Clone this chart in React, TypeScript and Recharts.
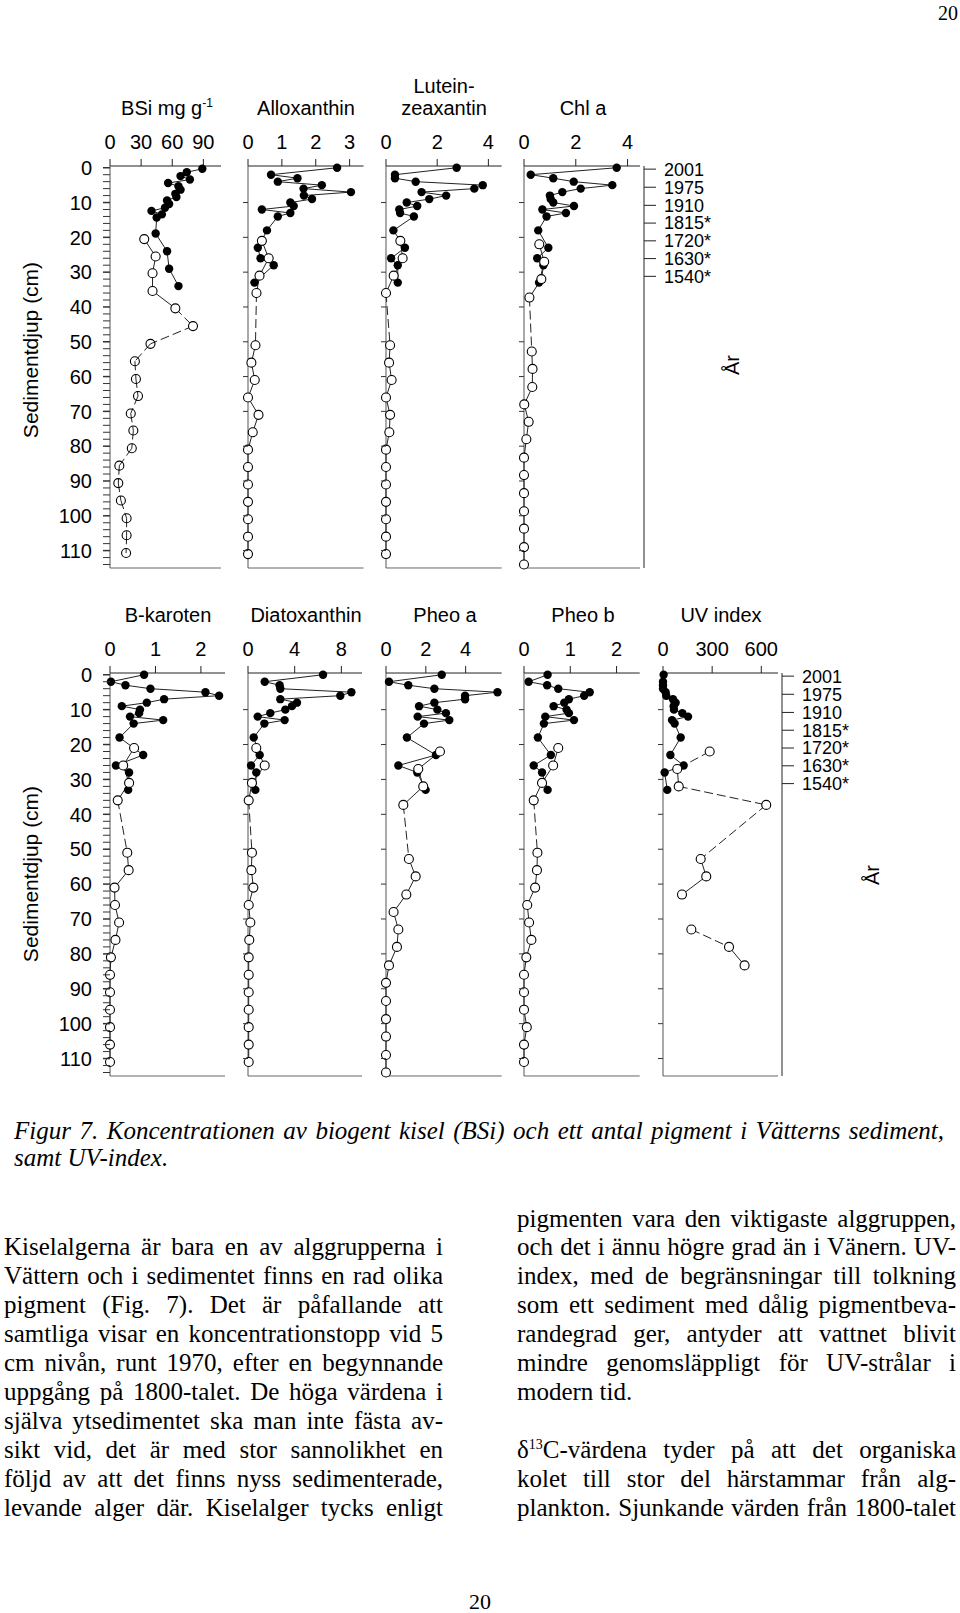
import React from 'react';
import { ScatterChart, Scatter, XAxis, YAxis, ReferenceLine } from 'recharts';

const SANS = '"Liberation Sans", Arial, Helvetica, sans-serif';
const SERIF = '"Liberation Serif", "Times New Roman", Times, serif';

// ---------------- data ----------------
const yearLabels = ['2001', '1975', '1910', '1815*', '1720*', '1630*', '1540*'];
const yearDepths = [0.4, 5.6, 10.8, 15.9, 21.0, 26.1, 31.2];

const pigFilledDepth = [0, 2, 3, 4, 5, 6, 7, 8, 9, 10, 11, 12, 13, 14, 18, 23, 26, 28, 33];
const openDepthA = [21, 26, 31, 36, 51, 56, 61, 66, 71, 76, 81, 86, 91, 96, 101, 106, 111];
const openDepthB = [22, 27, 32, 37.3, 52.8, 57.8, 63, 68, 73, 78, 83.3, 88.3, 93.5, 98.7, 103.7, 109, 114];

const bsiFilledDepth = [0.3, 1.3, 2.4, 3.4, 4.4, 5.3, 6.3, 7.5, 8.4, 9.4, 10.4, 11.5, 12.4, 13.4, 14.3, 18.9, 24, 29, 34];
const bsiFilledValue = [89, 74, 68, 77, 56, 66, 68, 63, 64, 55, 57, 53, 40, 50, 45, 44, 55, 57, 66];
const bsiOpenDepth = [20.5, 25.5, 30.3, 35.4, 40.4, 45.5, 50.6, 55.6, 60.7, 65.6, 70.6, 75.5, 80.6, 85.6, 90.6, 95.6, 100.7, 105.6, 110.7];
const bsiOpenValue = [33, 44, 41, 41, 63, 80, 39, 24, 25, 27, 20, 22.5, 21, 9, 8, 10.5, 16, 16, 15.5];

const alloxFilledValue = [2.63, 0.68, 1.46, 0.88, 2.18, 1.64, 3.04, 1.65, 1.89, 1.25, 1.35, 0.41, 1.25, 0.88, 0.56, 0.29, 0.37, 0.76, 0.19];
const alloxOpenValue = [0.41, 0.61, 0.34, 0.25, 0.22, 0.1, 0.2, 0, 0.31, 0.14, 0, 0, 0, 0, 0, 0, 0];

const luteinFilledValue = [2.76, 0.35, 0.35, 1.16, 3.78, 3.45, 1.39, 2.35, 1.69, 0.81, 1.22, 0.52, 0.55, 1.09, 0.29, 0.74, 0.2, 0.46, 0.46];
const luteinOpenValue = [0.56, 0.65, 0.3, 0, 0.16, 0.12, 0.22, 0, 0.16, 0.13, 0, 0, 0, 0, 0, 0, 0];

const chlFilledValue = [3.58, 0.26, 1.13, 1.92, 3.41, 2.19, 1.48, 1.0, 1.03, 1.13, 1.93, 0.71, 1.62, 0.87, 0.55, 0.94, 0.51, 0.75, 0.58];
const chlOpenValue = [0.59, 0.78, 0.67, 0.21, 0.3, 0.33, 0.32, 0.01, 0.18, 0.09, 0, 0, 0, 0, 0, 0, 0];

const bkarFilledValue = [0.75, 0.02, 0.34, 0.89, 2.1, 2.4, 1.19, 0.81, 0.26, 0.66, 0.64, 0.44, 1.17, 0.52, 0.21, 0.73, 0.13, 0.42, 0.4];
const bkarOpenValue = [0.53, 0.29, 0.42, 0.17, 0.38, 0.41, 0.1, 0.11, 0.2, 0.12, 0.02, 0, 0, 0, 0, 0, 0];

const diatoFilledValue = [6.43, 1.43, 2.71, 2.77, 8.86, 7.91, 2.77, 4.2, 3.77, 3.2, 1.91, 0.83, 3.14, 1.4, 0.49, 1.0, 0.26, 0.71, 0.63];
const diatoOpenValue = [0.71, 1.43, 0.34, 0.06, 0.34, 0.29, 0.46, 0.06, 0.2, 0.11, 0.06, 0.06, 0.06, 0.06, 0.06, 0.06, 0.06];

const pheoaFilledValue = [2.8, 0.15, 1.12, 2.43, 5.6, 3.97, 3.97, 2.43, 1.66, 2.58, 3.01, 1.59, 3.18, 1.91, 1.05, 2.51, 0.62, 1.57, 1.99];
const pheoaOpenValue = [2.71, 1.62, 1.87, 0.87, 1.15, 1.49, 1.02, 0.38, 0.62, 0.55, 0.15, 0, 0, 0, 0, 0, 0];

const pheobFilledValue = [0.51, 0.1, 0.5, 0.74, 1.42, 1.3, 0.97, 0.87, 0.64, 0.92, 0.97, 0.46, 1.08, 0.43, 0.3, 0.58, 0.21, 0.39, 0.51];
const pheobOpenValue = [0.74, 0.63, 0.39, 0.21, 0.29, 0.28, 0.24, 0.07, 0.11, 0.16, 0.05, 0, 0, 0, 0.06, 0, 0];

const uvFilledValue = [4, 0, 0, 0, 16, 20, 61, 77, 65, 67, 118, 153, 55, 71, 108, 45, 126, 10, 26];
const uvOpenValue: (number | null)[] = [285, 87, 96, 630, 230, 264, 116, null, 173, 403, 498, null, null, null, null, null, null];

// ---------------- helpers ----------------
type Pt = { x: number; y: number };

function zip(depths: number[], values: (number | null)[]): Pt[] {
  const out: Pt[] = [];
  values.forEach((v, i) => {
    if (v !== null && v !== undefined) out.push({ x: v, y: depths[i] });
  });
  return out;
}

function buildSegments(depths: number[], values: (number | null)[], isDashed: (i: number) => boolean) {
  const segs: { pts: Pt[]; dashed: boolean }[] = [];
  let cur: Pt[] | null = null;
  for (let i = 0; i < values.length - 1; i++) {
    const a = values[i];
    const b = values[i + 1];
    if (a == null || b == null) {
      cur = null;
      continue;
    }
    const pA = { x: a, y: depths[i] };
    const pB = { x: b, y: depths[i + 1] };
    if (isDashed(i)) {
      segs.push({ pts: [pA, pB], dashed: true });
      cur = null;
    } else {
      if (!cur) {
        cur = [pA];
        segs.push({ pts: cur, dashed: false });
      }
      cur.push(pB);
    }
  }
  return segs;
}

const DepthTick = (props: any) => {
  const { x, y, payload, labelled } = props;
  const v = payload.value;
  const major = v % 10 === 0;
  if (!labelled && !major) return <g />;
  const len = labelled ? 7 : 5;
  return (
    <g>
      <line x1={x - len} x2={x} y1={y} y2={y} stroke="#333" strokeWidth={labelled && major ? 1.5 : 1} />
      {labelled && major ? (
        <text x={x - 18} y={y} dy="0.36em" textAnchor="end" fontSize={20} fontFamily={SANS} fill="#000">
          {v}
        </text>
      ) : null}
    </g>
  );
};

type PanelProps = {
  left: number;
  right: number;
  top: number;
  bottom: number;
  xMax: number;
  xTicks: number[];
  filledDepth: number[];
  filledValue: (number | null)[];
  openDepth: number[];
  openValue: (number | null)[];
  labelled?: boolean;
  yearAxis?: boolean;
  dashedSegs?: number[];
  dashFrom?: number;
  hollowFrom?: number;
};

const DEPTH_DOMAIN: [number, number] = [-0.5, 115];

function Panel(p: PanelProps) {
  const plotW = p.right - p.left;
  const plotH = p.bottom - p.top;
  const yW = p.labelled ? 100 : 12;
  const xH = 40;
  const rightW = p.yearAxis ? 4 + 110 : 4;
  const W = yW + plotW + rightW;
  const H = xH + plotH + 4;
  const filledPts = zip(p.filledDepth, p.filledValue);
  const openPts = zip(p.openDepth, p.openValue);
  const isDashed = (i: number) => {
    if (p.dashedSegs) return p.dashedSegs.includes(i);
    if (p.dashFrom !== undefined && i >= p.dashFrom) return true;
    return p.openDepth[i + 1] - p.openDepth[i] > 7;
  };
  const openSegs = buildSegments(p.openDepth, p.openValue, isDashed);
  const yTicks: number[] = [];
  if (p.labelled) for (let d = 0; d <= 114; d += 2) yTicks.push(d);
  else for (let d = 10; d <= 110; d += 10) yTicks.push(d);
  const hollowFrom = p.hollowFrom ?? 999;

  return (
    <div style={{ position: 'absolute', left: p.left - yW, top: p.top - xH }}>
      <ScatterChart width={W} height={H} margin={{ top: 0, right: p.yearAxis ? 0 : rightW, bottom: 4, left: 0 }}>
        <XAxis
          type="number"
          dataKey="x"
          orientation="top"
          domain={[0, p.xMax]}
          ticks={p.xTicks}
          interval={0}
          height={xH}
          tickSize={7}
          tickMargin={10}
          stroke="#222"
          tick={{ fontSize: 20, fill: '#000', fontFamily: SANS }}
        />
        <YAxis
          type="number"
          dataKey="y"
          domain={DEPTH_DOMAIN}
          reversed
          ticks={yTicks}
          interval={0}
          width={yW}
          tickLine={false}
          tickSize={0}
          tickMargin={0}
          stroke="#555"
          tick={(tp: any) => <DepthTick {...tp} labelled={p.labelled} />}
        />
        {p.yearAxis ? (
          <YAxis
            yAxisId="pad"
            orientation="right"
            type="number"
            domain={DEPTH_DOMAIN}
            allowDataOverflow
            reversed
            width={4}
            axisLine={false}
            tickLine={false}
            tick={false}
          />
        ) : null}
        {p.yearAxis ? (
          <YAxis
            yAxisId="yr"
            orientation="right"
            type="number"
            domain={DEPTH_DOMAIN}
            allowDataOverflow
            reversed
            width={110}
            ticks={yearDepths}
            interval={0}
            tickSize={12}
            tickMargin={8}
            stroke="#222"
            tickFormatter={(v: number) => yearLabels[yearDepths.indexOf(v)] ?? ''}
            tick={{ fontSize: 18, fill: '#000', fontFamily: SANS }}
          />
        ) : null}
        <ReferenceLine y={115} stroke="#666" strokeWidth={1} />
        <Scatter
          data={filledPts}
          line={{ stroke: '#222', strokeWidth: 1 }}
          lineType="joint"
          shape={() => <g />}
          isAnimationActive={false}
        />
        {openSegs.map((s, i) => (
          <Scatter
            key={'seg' + i}
            data={s.pts}
            line={{ stroke: '#222', strokeWidth: 1, strokeDasharray: s.dashed ? '9 4' : undefined }}
            lineType="joint"
            shape={() => <g />}
            isAnimationActive={false}
          />
        ))}
        <Scatter
          data={filledPts}
          shape={(sp: any) => <circle cx={sp.cx} cy={sp.cy} r={4.2} fill="#000" />}
          isAnimationActive={false}
        />
        <Scatter
          data={openPts}
          shape={(sp: any) => (
            <circle
              cx={sp.cx}
              cy={sp.cy}
              r={4.5}
              fill={sp.index !== undefined && sp.index >= hollowFrom ? 'none' : '#fff'}
              stroke="#000"
              strokeWidth={1.1}
            />
          )}
          isAnimationActive={false}
        />
      </ScatterChart>
    </div>
  );
}

const Title = ({ cx, cy, children }: { cx: number; cy: number; children: React.ReactNode }) => (
  <div
    style={{
      position: 'absolute',
      left: cx - 100,
      top: cy - 12,
      width: 200,
      height: 24,
      lineHeight: '24px',
      textAlign: 'center',
      fontFamily: SANS,
      fontSize: 20,
      color: '#000',
      whiteSpace: 'nowrap',
    }}
  >
    {children}
  </div>
);

const Rotated = ({ cx, cy, text, size }: { cx: number; cy: number; text: string; size: number }) => (
  <div
    style={{
      position: 'absolute',
      left: cx - 150,
      top: cy - 14,
      width: 300,
      height: 28,
      lineHeight: '28px',
      textAlign: 'center',
      fontFamily: SANS,
      fontSize: size,
      color: '#000',
      transform: 'rotate(-90deg)',
      transformOrigin: '50% 50%',
      whiteSpace: 'nowrap',
    }}
  >
    {text}
  </div>
);

const TextLine = ({
  x,
  cy,
  w,
  children,
  justify = true,
  italic = false,
}: {
  x: number;
  cy: number;
  w: number;
  children: React.ReactNode;
  justify?: boolean;
  italic?: boolean;
}) => (
  <div
    style={{
      position: 'absolute',
      left: x,
      top: cy - 17,
      width: w,
      height: 29,
      lineHeight: '29px',
      fontSize: 25,
      fontFamily: SERIF,
      fontStyle: italic ? 'italic' : 'normal',
      textAlign: justify ? 'justify' : 'left',
      textAlignLast: justify ? 'justify' : 'left',
      color: '#000',
      overflow: 'hidden',
    }}
  >
    {children}
  </div>
);

const leftLines = [
  'Kiselalgerna är bara en av alggrupperna i',
  'Vättern och i sedimentet finns en rad olika',
  'pigment (Fig. 7). Det är påfallande att',
  'samtliga visar en koncentrationstopp vid 5',
  'cm nivån, runt 1970, efter en begynnande',
  'uppgång på 1800-talet. De höga värdena i',
  'själva ytsedimentet ska man inte fästa av-',
  'sikt vid, det är med stor sannolikhet en',
  'följd av att det finns nyss sedimenterade,',
  'levande alger där. Kiselalger tycks enligt',
];

const rightLines = [
  'pigmenten vara den viktigaste alggruppen,',
  'och det i ännu högre grad än i Vänern. UV-',
  'index, med de begränsningar till tolkning',
  'som ett sediment med dålig pigmentbeva-',
  'randegrad ger, antyder att vattnet blivit',
  'mindre genomsläppligt för UV-strålar i',
];

export default function App() {
  const T1 = 166;
  const B1 = 568;
  const T2 = 673;
  const B2 = 1076;
  const LY0 = 1220.5;
  const LP = 28.9;
  return (
    <div
      style={{
        position: 'absolute',
        left: 0,
        top: 0,
        width: 960,
        height: 1613,
        background: '#fff',
        overflow: 'hidden',
      }}
    >
      <div style={{ position: 'absolute', left: 900, top: 0, width: 58, textAlign: 'right', fontFamily: SERIF, fontSize: 20, lineHeight: '26px' }}>20</div>

      {/* top row titles */}
      <Title cx={167} cy={108}>
        BSi mg g<sup style={{ fontSize: 12, verticalAlign: 'top', lineHeight: '14px' }}>-1</sup>
      </Title>
      <Title cx={306} cy={108}>Alloxanthin</Title>
      <Title cx={444} cy={86}>Lutein-</Title>
      <Title cx={444} cy={108}>zeaxantin</Title>
      <Title cx={583} cy={108}>Chl a</Title>

      <Panel left={110} right={221} top={T1} bottom={B1} xMax={107} xTicks={[0, 30, 60, 90]} filledDepth={bsiFilledDepth} filledValue={bsiFilledValue} openDepth={bsiOpenDepth} openValue={bsiOpenValue} labelled dashFrom={4} hollowFrom={6} />
      <Panel left={248} right={363.5} top={T1} bottom={B1} xMax={3.41} xTicks={[0, 1, 2, 3]} filledDepth={pigFilledDepth} filledValue={alloxFilledValue} openDepth={openDepthA} openValue={alloxOpenValue} />
      <Panel left={386} right={501.7} top={T1} bottom={B1} xMax={4.52} xTicks={[0, 2, 4]} filledDepth={pigFilledDepth} filledValue={luteinFilledValue} openDepth={openDepthA} openValue={luteinOpenValue} />
      <Panel left={524} right={640} top={T1} bottom={B1} xMax={4.48} xTicks={[0, 2, 4]} filledDepth={pigFilledDepth} filledValue={chlFilledValue} openDepth={openDepthB} openValue={chlOpenValue} yearAxis />

      <Rotated cx={31} cy={350} text="Sedimentdjup (cm)" size={21} />
      <Rotated cx={732} cy={365} text="År" size={20} />

      {/* bottom row titles */}
      <Title cx={168} cy={615}>B-karoten</Title>
      <Title cx={306} cy={615}>Diatoxanthin</Title>
      <Title cx={445} cy={615}>Pheo a</Title>
      <Title cx={583} cy={615}>Pheo b</Title>
      <Title cx={721} cy={615}>UV index</Title>

      <Panel left={110} right={225} top={T2} bottom={B2} xMax={2.53} xTicks={[0, 1, 2]} filledDepth={pigFilledDepth} filledValue={bkarFilledValue} openDepth={openDepthA} openValue={bkarOpenValue} labelled />
      <Panel left={248} right={362} top={T2} bottom={B2} xMax={9.77} xTicks={[0, 4, 8]} filledDepth={pigFilledDepth} filledValue={diatoFilledValue} openDepth={openDepthA} openValue={diatoOpenValue} />
      <Panel left={386} right={501.7} top={T2} bottom={B2} xMax={5.81} xTicks={[0, 2, 4]} filledDepth={pigFilledDepth} filledValue={pheoaFilledValue} openDepth={openDepthB} openValue={pheoaOpenValue} />
      <Panel left={524.3} right={640} top={T2} bottom={B2} xMax={2.5} xTicks={[0, 1, 2]} filledDepth={pigFilledDepth} filledValue={pheobFilledValue} openDepth={openDepthA} openValue={pheobOpenValue} />
      <Panel left={663.3} right={778.3} top={T2} bottom={B2} xMax={702} xTicks={[0, 300, 600]} filledDepth={pigFilledDepth} filledValue={uvFilledValue} openDepth={openDepthB} openValue={uvOpenValue} yearAxis dashedSegs={[0, 2, 3, 8]} />

      <Rotated cx={31} cy={874} text="Sedimentdjup (cm)" size={21} />
      <Rotated cx={872} cy={875} text="År" size={20} />

      {/* caption */}
      <TextLine x={14} cy={1133} w={930} italic>
        Figur 7. Koncentrationen av biogent kisel (BSi) och ett antal pigment i Vätterns sediment,
      </TextLine>
      <TextLine x={14} cy={1160} w={930} italic justify={false}>
        samt UV-index.
      </TextLine>

      {leftLines.map((t, i) => (
        <TextLine key={'l' + i} x={4} cy={LY0 + (i + 1) * LP} w={439}>
          {t}
        </TextLine>
      ))}
      {rightLines.map((t, i) => (
        <TextLine key={'r' + i} x={517} cy={LY0 + i * LP} w={439}>
          {t}
        </TextLine>
      ))}
      <TextLine x={517} cy={LY0 + 6 * LP} w={439} justify={false}>
        modern tid.
      </TextLine>
      <TextLine x={517} cy={LY0 + 8 * LP} w={439}>
        δ<sup style={{ fontSize: 14, verticalAlign: 'top', lineHeight: '20px' }}>13</sup>C-värdena tyder på att det organiska
      </TextLine>
      <TextLine x={517} cy={LY0 + 9 * LP} w={439}>
        kolet till stor del härstammar från alg-
      </TextLine>
      <TextLine x={517} cy={LY0 + 10 * LP} w={439}>
        plankton. Sjunkande värden från 1800-talet
      </TextLine>

      <div style={{ position: 'absolute', left: 440, top: 1589, width: 80, textAlign: 'center', fontFamily: SERIF, fontSize: 22, lineHeight: '26px' }}>20</div>
    </div>
  );
}
